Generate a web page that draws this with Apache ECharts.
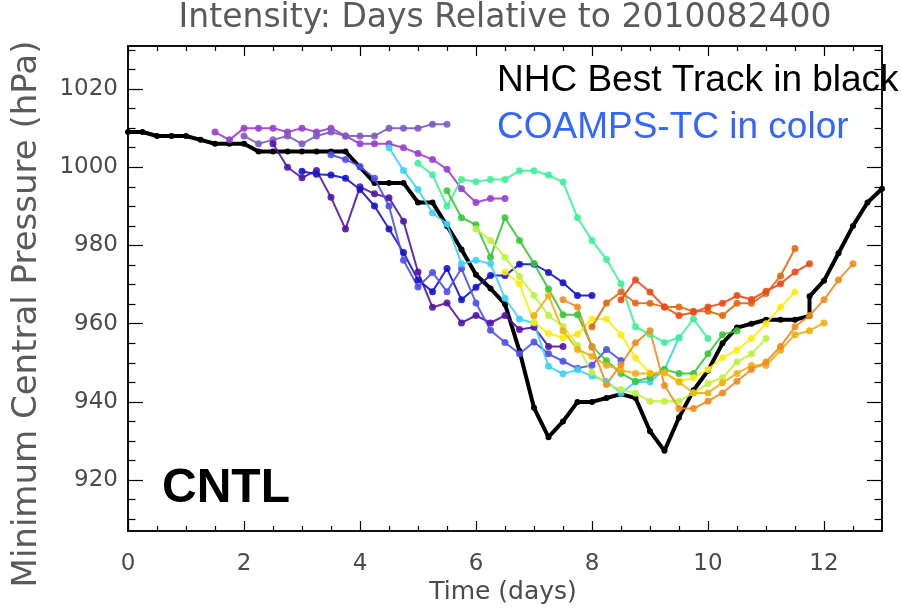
<!DOCTYPE html>
<html>
<head>
<meta charset="utf-8">
<script src="https://cdn.jsdelivr.net/npm/echarts@6.0.0/dist/echarts.min.js"></script>
<style>
html, body { margin: 0; padding: 0; background: #fff; }
#chart { width: 902px; height: 609px; }
</style>
</head>
<body>
<div id="chart"></div>
<script>
// tick positions
var xMajor = [0, 2, 4, 6, 8, 10, 12]
var xMinor = [0.5, 1, 1.5, 2.5, 3, 3.5, 4.5, 5, 5.5, 6.5, 7, 7.5, 8.5, 9, 9.5, 10.5, 11, 11.5, 12.5]
var yMajor = [920, 940, 960, 980, 1000, 1020]
var yMinor = [910, 915, 925, 930, 935, 945, 950, 955, 965, 970, 975, 985, 990, 995, 1005, 1010, 1015, 1025, 1030]

// NHC best track (days, hPa)
var bestTime = [0, 0.25, 0.5, 0.75, 1, 1.25, 1.5, 1.75, 2, 2.25, 2.5, 2.75, 3, 3.25, 3.5, 3.75,
    4, 4.25, 4.5, 4.75, 5, 5.25, 5.5, 5.75, 6, 6.25, 6.5, 6.75, 7, 7.25, 7.5, 7.75,
    8, 8.25, 8.5, 8.75, 9, 9.25, 9.5, 9.75, 10, 10.25, 10.5, 10.75, 11, 11.25, 11.5, 11.75, 11.75,
    12, 12.25, 12.5, 12.75, 13]
var bestPres = [1009, 1009, 1008, 1008, 1008, 1007, 1006, 1006, 1006, 1004, 1004, 1004, 1004, 1004, 1004, 1004,
    1000, 996, 996, 996, 991, 991, 985, 979, 972.5, 969, 965, 953, 938.5, 931, 935, 940,
    940, 941, 942, 941, 932.5, 927.5, 936, 943, 948, 955, 959, 960, 961, 961, 961, 962, 967,
    971, 978, 985, 991, 994.5]

// COAMPS-TC forecasts, 6-hourly from the start day
var run150 = [1009, 1007, 1010, 1010, 1010, 1009, 1010, 1009, 1010, 1008, 1006, 1006, 1006, 1005, 1003.5, 1002, 999.5, 994.5, 991, 992, 992]
var run200 = [1008, 1006, 1007, 1008, 1006, 1008, 1009, 1008, 1008, 1008, 1010, 1010, 1010, 1011, 1011]
var run250 = [1006, 1000, 997.3, 999.2, 992.3, 984.2, 995, 993.2, 992.2, 986.2, 973.2, 964.2, 965.3, 960.2, 962.1, 960.2, 962.1, 958.5, 959.1, 954.2, 954.2]
var run300 = [999, 998.2, 998, 997.2, 994.3, 990.1, 984.2, 978.2, 971.2, 968.2, 974.1, 966.1, 969.3, 972.3, 972.3, 975.2, 975.2, 973.1, 970.5, 967.2, 967.2]
var run350 = [1003.2, 1002, 1000.2, 997.2, 990.1, 976.2, 969.4, 973.1, 968.2, 974.1, 965.3, 958.3, 955.2, 952.3, 955.3, 952.3, 950.4, 948.6, 949.4, 953.4, 950.6]
var run450 = [1005, 999.2, 994.3, 988.3, 985.5, 975.3, 976.2, 975.3, 966.5, 961.2, 960.2, 949.1, 947.2, 948.2, 946.6, 945.3, 942.2, 945.1, 945.1, 948.3, 956.4]
var run500 = [1001, 998.1, 990.1, 996.9, 996.3, 996.9, 996.9, 999.1, 999.1, 998, 996.2, 987.1, 981.3, 976.4, 970.2, 959.2, 957.3, 955.2, 956.4, 961.2, 956.2]
var run550 = [994, 987.1, 985.3, 977, 987.1, 981.3, 975.4, 968.9, 962.3, 962.3, 954.2, 950.5, 947.3, 945.3, 946.2, 948.3, 947.3, 947.3, 952.3, 957.2, 958.2]
var run600 = [984.2, 981.3, 977, 972.1, 967.2, 962.1, 959.3, 954.4, 947.5, 944.5, 943.2, 942.2, 940.2, 940.2, 940.2, 942.3, 944.7, 946.2, 950.2, 952.3, 956.2]
var run650 = [973.2, 970.2, 960.4, 957.5, 956.4, 957.3, 961.2, 961.2, 957.2, 951.3, 947.4, 947.4, 945.3, 946.2, 948.3, 951.3, 953.3, 956.2, 960, 964.2, 968.1]
var run700 = [962.1, 967.2, 958.2, 953.4, 951.7, 949.4, 948.1, 947.3, 947.3, 947.5, 945.1, 942.3, 942.3, 944.9, 947.3, 949.3, 949.3, 953.2, 957.2, 958.2, 960.2]
var run750 = [966.1, 964.3, 954, 944.5, 949.6, 955.1, 958.2, 944.2, 938.3, 938.3, 940.2, 942.3, 945.3, 948.3, 950.2, 954.2, 959.2, 962.1, 966.1, 971.2, 975.3]
var run800 = [959.2, 965.3, 968.1, 965.3, 965.2, 964.3, 964.3, 963.2, 963.2, 962.1, 965.2, 965.2, 967.7, 972.2, 979.2]
var run850 = [966.1, 971.2, 968.1, 964.3, 962.1, 962.9, 964.3, 965.2, 967.2, 966.2, 968.3, 970.2, 973.2, 975.3]

var runStart = [1.5, 2, 2.5, 3, 3.5, 4.5, 5, 5.5, 6, 6.5, 7, 7.5, 8, 8.5]
var runColor = ["#9a3ecf", "#7c5cc4", "#5214a8", "#1414cc", "#5050f0", "#3cd2f8", "#40f098",
    "#38c838", "#c0f040", "#ffea10", "#f0b010", "#f08c20", "#e06a10", "#f04818"]
var runValues = [run150, run200, run250, run300, run350, run450, run500, run550, run600, run650, run700, run750, run800, run850]

var chartDom = document.getElementById("chart")
var myChart = echarts.init(chartDom)

var labelFont = "DejaVu Sans"
var frameLine = { show: true, onZero: false, lineStyle: { color: "#000", width: 1.5 } }

function xAxisDef(pos, ticks, len, labels) {
    return {
        type: "value",
        position: pos,
        min: 0,
        max: 13,
        axisLine: frameLine,
        axisTick: { show: true, inside: true, length: len, customValues: ticks, lineStyle: { color: "#000", width: 1.2 } },
        axisLabel: {
            show: labels,
            customValues: ticks,
            margin: 22,
            fontSize: 23,
            color: "#4a4a4a",
            fontFamily: labelFont
        },
        splitLine: { show: false }
    }
}

function yAxisDef(pos, ticks, len, labels) {
    return {
        type: "value",
        position: pos,
        min: 907,
        max: 1031,
        axisLine: frameLine,
        axisTick: { show: true, inside: true, length: len, customValues: ticks, lineStyle: { color: "#000", width: 1.2 } },
        axisLabel: {
            show: labels,
            customValues: ticks,
            formatter: function (v) { return String(v) },
            margin: 10,
            fontSize: 23,
            color: "#4a4a4a",
            fontFamily: labelFont
        },
        splitLine: { show: false }
    }
}

var series = []
var bestData = bestTime.map(function (t, i) { return [t, bestPres[i]] })
series.push({
    name: "NHC",
    type: "line",
    data: bestData,
    symbol: "circle",
    symbolSize: 6,
    itemStyle: { color: "#000" },
    lineStyle: { color: "#000", width: 4 },
    z: 2
})

runValues.forEach(function (vals, k) {
    series.push({
        name: "run" + runStart[k],
        type: "line",
        data: vals.map(function (v, i) { return [runStart[k] + i * 0.25, v] }),
        symbol: "circle",
        symbolSize: 7,
        itemStyle: { color: runColor[k], opacity: 0.9 },
        lineStyle: { color: runColor[k], width: 2, opacity: 0.9 },
        z: 3
    })
})

var option = {
    backgroundColor: "#fff",
    animation: false,
    grid: { left: 128, top: 46, width: 754, height: 485, containLabel: false },
    xAxis: [
        xAxisDef("bottom", xMajor, 10, true),
        xAxisDef("bottom", xMinor, 5, false),
        xAxisDef("top", xMajor, 10, false),
        xAxisDef("top", xMinor, 5, false)
    ],
    yAxis: [
        yAxisDef("left", yMajor, 15, true),
        yAxisDef("left", yMinor, 7.5, false),
        yAxisDef("right", yMajor, 15, false),
        yAxisDef("right", yMinor, 7.5, false)
    ],
    series: series,
    graphic: [
        {
            type: "text", x: 505, y: 18,
            style: { text: "Intensity: Days Relative to 2010082400", fill: "#5a5a5a", font: "33px DejaVu Sans", textAlign: "center", textVerticalAlign: "middle" }
        },
        {
            type: "text", x: 503, y: 592,
            style: { text: "Time (days)", fill: "#4a4a4a", font: "25px DejaVu Sans", textAlign: "center", textVerticalAlign: "middle" }
        },
        {
            type: "text", x: 27, y: 314, rotation: Math.PI / 2,
            style: { text: "Minimum Central Pressure (hPa)", fill: "#5a5a5a", font: "34px DejaVu Sans", textAlign: "center", textVerticalAlign: "middle" }
        },
        {
            type: "text", x: 497, y: 81, z: 10,
            style: { text: "NHC Best Track in black", fill: "#000", font: "37px Liberation Sans", textAlign: "left", textVerticalAlign: "middle" }
        },
        {
            type: "text", x: 497, y: 128, z: 10,
            style: { text: "COAMPS-TC in color", fill: "#3366ff", font: "37px Liberation Sans", textAlign: "left", textVerticalAlign: "middle" }
        },
        {
            type: "text", x: 162, y: 489, z: 10,
            style: { text: "CNTL", fill: "#000", font: "bold 48px Liberation Sans", textAlign: "left", textVerticalAlign: "middle" }
        }
    ]
}

option && myChart.setOption(option)
</script>
</body>
</html>
